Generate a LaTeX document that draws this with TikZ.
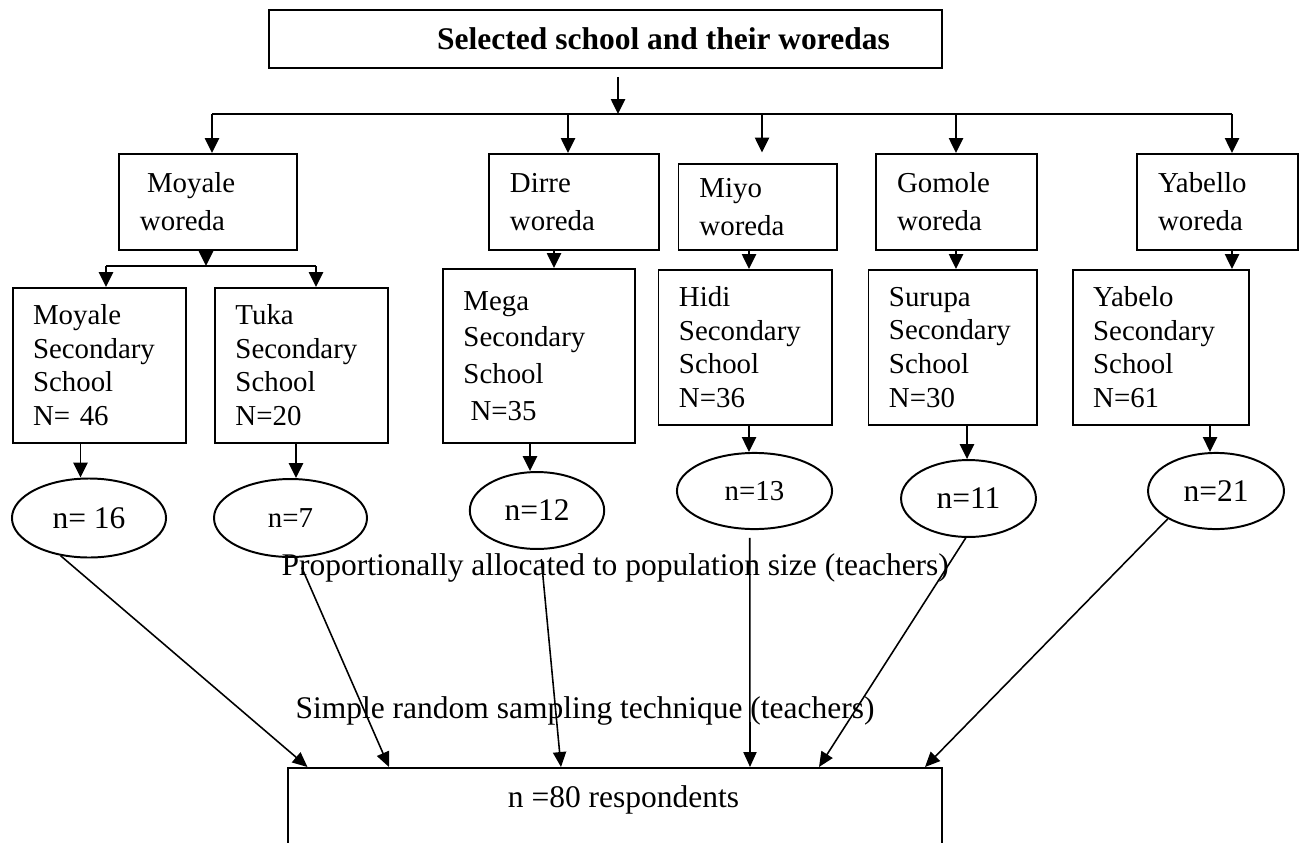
\documentclass[tikz,border=0pt]{standalone}
\usepackage{fontspec}
\setmainfont{Liberation Serif}
\usepackage{tikz}
\usetikzlibrary{arrows.meta, positioning, shapes.geometric}

\begin{document}
\begin{tikzpicture}[
        x=0.381pt, y=-0.381pt,
        line/.style={line width=0.75pt},
        arr/.style={line, -{Triangle[length=5.7pt, width=5.4pt]}},
        thinarr/.style={line width=0.6pt, -{Triangle[length=5.7pt, width=5pt]}},
        head/.style={draw, line width=0.75pt, minimum width=256.4pt, minimum height=22.1pt, inner sep=0pt, font=\fontsize{12}{14}\selectfont\bfseries},
        woreda/.style={draw, line width=0.75pt, anchor=north west, align=left, inner xsep=8pt, inner ysep=0pt, minimum height=36.6pt, font=\fontsize{11}{14.5}\selectfont},
        school/.style={draw, line width=0.75pt, anchor=north west, align=left, inner xsep=7.8pt, inner ysep=0pt, minimum height=58.9pt, font=\fontsize{11}{12.8}\selectfont},
        count/.style={draw, ellipse, line width=0.75pt, inner sep=0pt, font=\fontsize{12}{14}\selectfont},
        note/.style={anchor=base west, inner sep=0pt, font=\fontsize{12}{14}\selectfont}
    ]
        \useasboundingbox (0,0) rectangle (1303,842);
        \clip (0,0) rectangle (1303,842);

        \node[head] (title) at (605.5,39) {\hspace*{44.2pt}Selected school and their woredas};

        \node[woreda, text width=51.8pt] (mw) at (118,153) {\hspace*{2.7pt}Moyale\\woreda};
        \node[woreda, text width=48.8pt] (dw) at (488,153) {Dirre\\woreda};
        \node[woreda, text width=44.4pt, minimum height=32.8pt] (yw) at (677.5,163) {Miyo\\woreda};
        \node[woreda, text width=45.3pt] (gw) at (875,153) {Gomole\\woreda};
        \node[woreda, text width=45.3pt] (bw) at (1136,153) {Yabello\\woreda};

        \node[school, text width=50.5pt] (ms) at (11.6,287) {Moyale\\Secondary\\School\\N= 46};
        \node[school, text width=50.3pt] (ts) at (214,287) {Tuka\\Secondary\\School\\N=20};
        \node[school, text width=57.6pt, minimum height=66.3pt, font=\fontsize{11}{14}\selectfont] (gs) at (442,268) {Mega\\Secondary\\School\\\hspace*{2.7pt}N=35};
        \node[school, text width=50.5pt] (hs) at (657.5,269) {Hidi\\Secondary\\School\\N=36};
        \node[school, text width=48.6pt] (ss) at (867.5,269) {Surupa\\Secondary\\School\\N=30};
        \node[school, text width=51.6pt] (ys) at (1071.7,269) {Yabelo\\Secondary\\School\\N=61};

        \node[count, minimum width=58.7pt, minimum height=30.1pt] (n16) at (89,518) {n= 16};
        \node[count, minimum width=58.3pt, minimum height=29.7pt, font=\fontsize{11}{13}\selectfont] (n7) at (290.5,518) {n=7\hspace{13.7pt}};
        \node[count, minimum width=51.2pt, minimum height=29.3pt] (n12) at (537,510.5) {n=12};
        \node[count, minimum width=59.1pt, minimum height=29pt, font=\fontsize{11}{13}\selectfont] (n13) at (754.5,491) {n=13};
        \node[count, minimum width=51.4pt, minimum height=29.3pt] (n11) at (968.5,498.5) {n=11};
        \node[count, minimum width=51.8pt, minimum height=29pt] (n21) at (1216,491) {n=21};

        \node[note] (alloc) at (281,575) {Proportionally allocated to population size (teachers)};
        \node[note] (srs) at (295,718) {Simple random sampling technique (teachers)};

        \node[draw, line width=0.75pt, anchor=north, minimum width=249pt, inner ysep=4pt, text height=11.2pt, text depth=40pt, font=\fontsize{12}{14}\selectfont] (res) at (615,767) {\hspace*{6.5pt}n =80 respondents};

        \coordinate (split) at (618,114);
        \coordinate (busW) at (212,114);
        \coordinate (busE) at (1232,114);
        \draw[arr, shorten <=3pt] (title.south -| split) -- (split);
        \draw[line] (busW) -- (busE);
        \foreach \x/\n/\s in {212/mw/0pt, 568/dw/0pt, 762/yw/4pt, 956/gw/0pt, 1232/bw/0pt}{
            \coordinate (drop) at (\x,114);
            \draw[arr, shorten >=\s] (drop) -- (drop |- \n.north);
        }

        \coordinate (mfork) at (206,266);
        \coordinate (mforkW) at (106,266);
        \coordinate (mforkE) at (316,266);
        \draw[arr] (mw.south -| mfork) -- (mfork);
        \draw[line] (mforkW) -- (mforkE);
        \draw[arr] (mforkW) -- (mforkW |- ms.north);
        \draw[arr] (mforkE) -- (mforkE |- ts.north);

        \foreach \x/\a/\b in {554/dw/gs, 749/yw/hs, 956/gw/ss, 1232/bw/ys, 80.5/ms/n16, 296/ts/n7, 530/gs/n12, 749/hs/n13, 967/ss/n11, 1210/ys/n21}{
            \coordinate (link) at (\x,0);
            \draw[arr] (\a.south -| link) -- (\b.north -| link);
        }

        \foreach \a/\x/\s in {n16.233/307.5/0pt, n7.280/389/4pt, n12.275/561/3.5pt, n13.263/750/3pt, n11.266/819/0pt, n21.210/925/0pt}{
            \coordinate (link) at (\x,0);
            \draw[thinarr, shorten <=\s] (\a) -- (res.north -| link);
        }
    \end{tikzpicture}
\end{document}
